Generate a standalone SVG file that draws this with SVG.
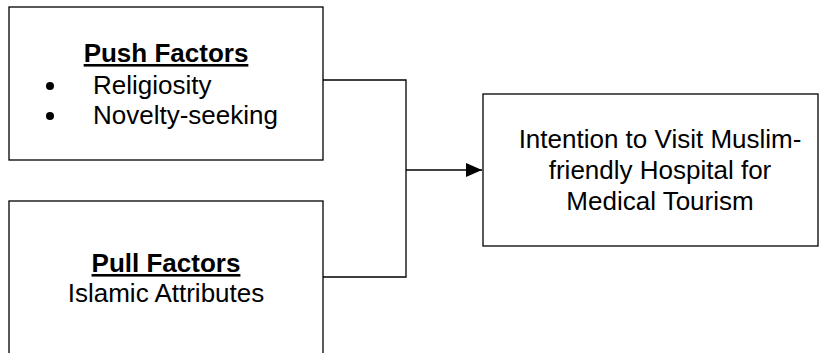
<svg xmlns="http://www.w3.org/2000/svg" width="824" height="353" viewBox="0 0 824 353">
<defs>
<style>
.box{fill:#fff;stroke:#000;stroke-width:1.3}
.t{font-family:"Liberation Sans",Arial,sans-serif;font-size:26px;fill:#000}
.h{font-weight:bold;text-decoration:underline}
.c{fill:none;stroke:#000;stroke-width:1.3}
</style>
<marker id="arr" markerWidth="16" markerHeight="14" refX="16" refY="7" orient="auto" markerUnits="userSpaceOnUse">
<path d="M0,0 L16,7 L0,14 Z" fill="#000"/>
</marker>
</defs>
<rect width="824" height="353" fill="#fff"/>
<g id="connectors">
<polyline class="c" points="323,80 406,80 406,277 323,277"/>
<line class="c" x1="406" y1="170" x2="482" y2="170" marker-end="url(#arr)"/>
</g>
<g id="push">
<rect class="box" x="9" y="7" width="314" height="153"/>
<text class="t h" x="166" y="62" text-anchor="middle">Push Factors</text>
<circle cx="50" cy="86" r="4"/>
<circle cx="50" cy="116" r="4"/>
<text class="t" x="93" y="94">Religiosity</text>
<text class="t" x="93" y="124">Novelty-seeking</text>
</g>
<g id="pull">
<rect class="box" x="9" y="201" width="314" height="170"/>
<text class="t h" x="166" y="272" text-anchor="middle">Pull Factors</text>
<text class="t" x="166" y="302" text-anchor="middle">Islamic Attributes</text>
</g>
<g id="intention">
<rect class="box" x="483" y="94" width="335" height="152"/>
<text class="t" x="660" y="148" text-anchor="middle">Intention to Visit Muslim-</text>
<text class="t" x="660" y="179" text-anchor="middle">friendly Hospital for</text>
<text class="t" x="660" y="210" text-anchor="middle">Medical Tourism</text>
</g>
</svg>
